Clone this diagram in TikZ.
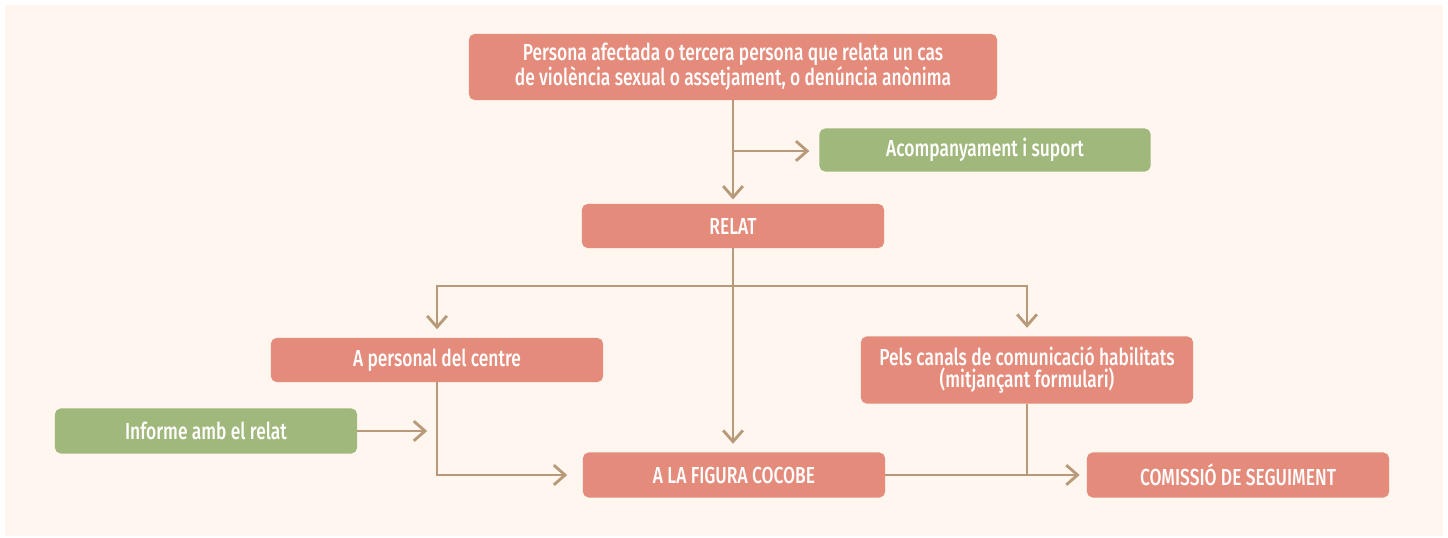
\documentclass[tikz,border=0pt]{standalone}
\usepackage{fontspec}
\setmainfont{Fira Sans Medium}[FakeStretch=0.75]
\usetikzlibrary{arrows.meta}
\definecolor{boxred}{HTML}{E48B7B}
\definecolor{boxgreen}{HTML}{A0B87C}
\definecolor{linetan}{HTML}{B89A7A}
\definecolor{paper}{HTML}{FEF6EF}
\tikzset{
  redbox/.style={fill=boxred,rounded corners=4pt,text=white,align=center,
    font=\fontsize{16.5}{16}\selectfont,inner sep=0pt,anchor=center},
  greenbox/.style={redbox,fill=boxgreen},
  flow/.style={draw=linetan,line width=2pt,-{Straight Barb[length=8pt,width=14pt,line width=2pt]},shorten >=5pt},
  plainflow/.style={draw=linetan,line width=2pt}
}
\begin{document}
\begin{tikzpicture}[x=0.025cm,y=-0.025cm]
        %% page
        \useasboundingbox (0,0) rectangle (1448,538);
        \fill[paper] (5,5) rectangle (1443,536);
        %% top row
        \node[redbox,minimum width=13.2cm,minimum height=1.65cm] (report) at (733,67) {Persona afectada o tercera persona que relata un cas\\de violència sexual o assetjament, o denúncia anònima};
        \node[greenbox,minimum width=8.275cm,minimum height=1.075cm] (support) at (985,150) {Acompanyament i suport};
        \node[redbox,minimum width=7.55cm,minimum height=1.1cm] (relat) at (733,226) {RELAT};
        %% middle row
        \node[redbox,minimum width=8.3cm,minimum height=1.1cm] (staff) at (437,360) {A personal del centre};
        \node[redbox,minimum width=8.3cm,minimum height=1.675cm] (channels) at (1027,370) {Pels canals de comunicació habilitats\\(mitjançant formulari)};
        \node[greenbox,minimum width=7.55cm,minimum height=1.125cm] (informe) at (206,431) {Informe amb el relat};
        %% bottom row
        \node[redbox,minimum width=7.55cm,minimum height=1.125cm] (cocobe) at (734,475) {A LA FIGURA COCOBE};
        \node[redbox,minimum width=7.55cm,minimum height=1.125cm] (comissio) at (1238,475) {COMISSIÓ DE SEGUIMENT};
        %% connectors
        \coordinate (fork) at (733,151);
        \coordinate (split) at (733,286);
        \draw[flow,shorten >=3pt] (report.south) -- (relat.north);
        \draw[flow,shorten >=7pt] (fork) -- (fork -| support.west);
        \draw[flow,shorten >=6pt] (relat.south) -- (relat.south |- cocobe.north);
        \draw[flow,shorten >=6pt] (split) -| (staff.north);
        \draw[flow,shorten >=6pt] (split) -| (channels.north);
        \draw[flow,shorten >=11pt] (staff.south) |- (cocobe.west);
        \draw[flow,shorten >=7pt] (informe.east) -- (informe.east -| staff.south);
        \draw[flow,shorten >=5pt] (cocobe.east) -- (comissio.west);
        \draw[plainflow] (channels.south) -- (channels.south |- cocobe.east);
    \end{tikzpicture}
\end{document}
